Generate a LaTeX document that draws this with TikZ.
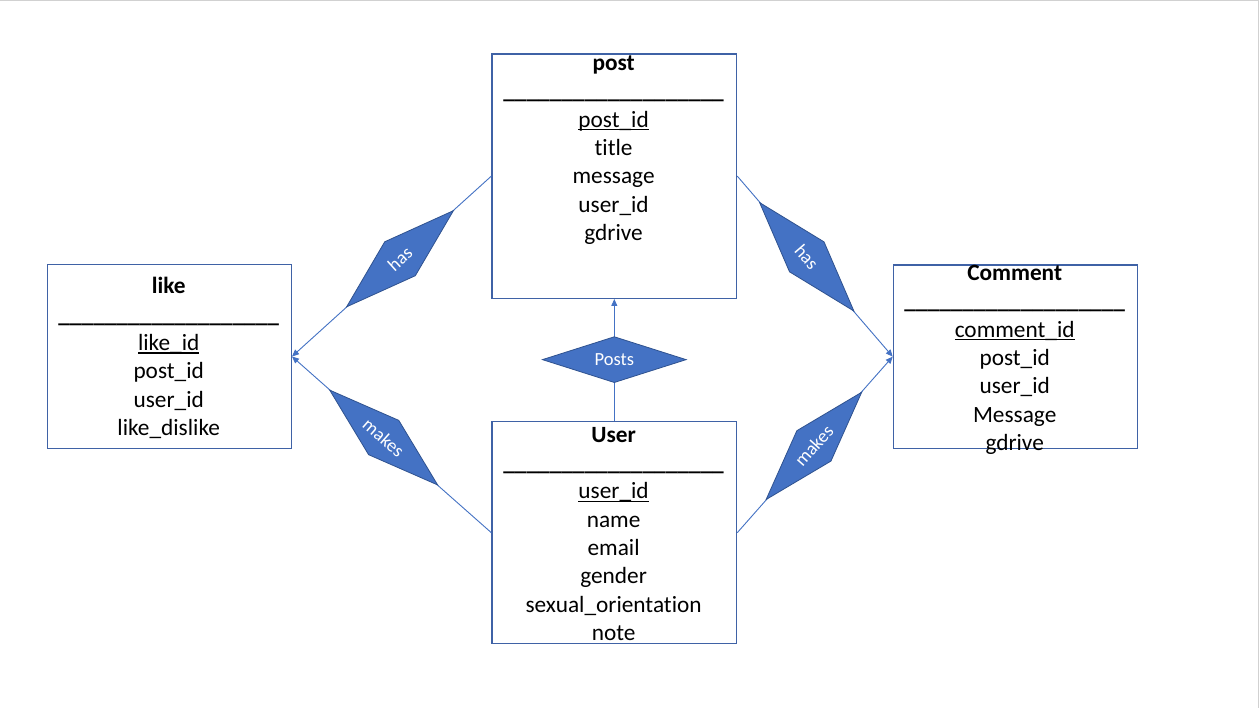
\documentclass[tikz,border=0pt]{standalone}
\usepackage{fontspec}
\setmainfont{Carlito}[Ligatures=NoCommon]
\usetikzlibrary{shapes.geometric,arrows.meta,calc}
\definecolor{acc}{HTML}{4472C4}
\definecolor{accd}{HTML}{2F528F}
\definecolor{boxc}{HTML}{3F62A6}
\newcommand\myul[1]{\setbox0\hbox{#1}\rlap{\rule[-3pt]{\wd0}{1.4pt}}\box0}
\newcommand\usline{\_\_\_\_\_\_\_\_\_\_\_\_\_\_\_\_\_\_\_}
\begin{document}
\begin{tikzpicture}[x=1pt,y=-1pt,
  ent/.style={draw=boxc, line width=1.3pt, rectangle, inner sep=0pt, anchor=north west},
  txt/.style={font=\fontsize{23.3}{28}\selectfont, anchor=base, inner sep=0pt},
  ttl/.style={txt, font=\fontsize{23.3}{28}\selectfont\bfseries},
  rel/.style={diamond, draw=accd, line width=0.8pt, fill=acc, text=white,
    font=\fontsize{18.5}{21}\selectfont, minimum width=144pt, minimum height=46pt,
    inner sep=0pt, shape aspect=3.1},
  conn/.style={draw=acc, line width=0.9pt, -{Triangle[length=7pt,width=6pt]}}]
\useasboundingbox (0,0) rectangle (1259,708);
\fill[white] (0,0) rectangle (1259,708);
\draw[black!18, line width=2pt] (0,0) -- (1259,0);
\draw[black!18, line width=1.5pt] (1258.5,0) -- (1258.5,708);

% entity boxes
\node[ent, minimum width=244.7pt, minimum height=244.4pt] (post) at (491.3,53.3) {};
\node[ent, minimum width=244.7pt, minimum height=222pt] (user) at (491.3,421) {};
\node[ent, minimum width=244pt, minimum height=183.7pt] (like) at (46.7,264) {};
\node[ent, minimum width=244pt, minimum height=183.4pt] (comment) at (892.7,264.3) {};

% post texts
\node[ttl] (post-t) at (613.6,70.5) {post};
\node[ttl] (post-s) at (613.6,98.9) {\usline};
\node[txt] (post-1) at (613.6,127.2) {\myul{post\_id}};
\node[txt] (post-2) at (613.6,155.5) {title};
\node[txt] (post-3) at (613.6,183.9) {message};
\node[txt] (post-4) at (613.6,212.2) {user\_id};
\node[txt] (post-5) at (613.6,240.5) {gdrive};

% like texts
\node[ttl] (like-t) at (168.7,294) {like};
\node[ttl] (like-s) at (168.7,322.3) {\usline};
\node[txt] (like-1) at (168.7,350.6) {\myul{like\_id}};
\node[txt] (like-2) at (168.7,378.9) {post\_id};
\node[txt] (like-3) at (168.7,407.2) {user\_id};
\node[txt] (like-4) at (168.7,435.5) {like\_dislike};

% comment texts
\node[ttl] (com-t) at (1014.7,280.5) {Comment};
\node[ttl] (com-s) at (1014.7,308.9) {\usline};
\node[txt] (com-1) at (1014.7,337.2) {\myul{comment\_id}};
\node[txt] (com-2) at (1014.7,365.5) {post\_id};
\node[txt] (com-3) at (1014.7,393.9) {user\_id};
\node[txt] (com-4) at (1014.7,422.2) {Message};
\node[txt] (com-5) at (1014.7,450.5) {gdrive};

% user texts
\node[ttl] (user-t) at (613.6,442.2) {User};
\node[ttl] (user-s) at (613.6,470.6) {\usline};
\node[txt] (user-1) at (613.6,498.9) {\myul{user\_id}};
\node[txt] (user-2) at (613.6,527.2) {name};
\node[txt] (user-3) at (613.6,555.5) {email};
\node[txt] (user-4) at (613.6,583.8) {gender};
\node[txt] (user-5) at (613.6,612.1) {sexual\_orientation};
\node[txt] (user-6) at (613.6,640.4) {note};

% connectors
\draw[conn] (post.west) -- (like.east);
\draw[conn] (user.west) -- (like.east);
\draw[conn] (post.east) -- (comment.west);
\draw[conn] (user.east) -- (comment.west);
\draw[conn] (user.north) -- (post.south);

% relationship diamonds
\node[rel, rotate=42.0] (has1) at ($(post.west)!0.458!(like.east)$) {has};
\node[rel, rotate=-41.3] (makes1) at ($(user.west)!0.54!(like.east)$) {makes};
\node[rel, rotate=-49.0] (has2) at ($(post.east)!0.447!(comment.west)$) {has};
\node[rel, rotate=48.3] (makes2) at ($(user.east)!0.493!(comment.west)$) {makes};
\node[rel] (posts) at ($(user.north)!0.503!(post.south)$) {Posts};
\end{tikzpicture}
\end{document}
